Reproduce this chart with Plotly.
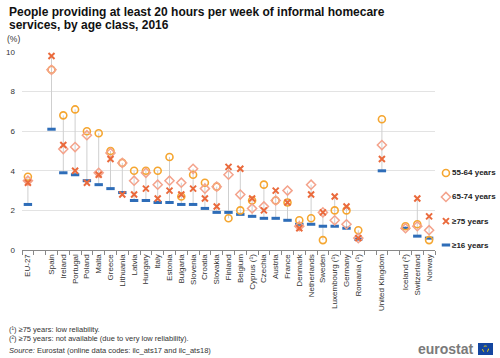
import plotly.graph_objects as go

categories = ["EU-27", "", "Spain", "Ireland", "Portugal", "Poland", "Malta", "Greece",
              "Lithuania", "Latvia", "Hungary", "Italy", "Estonia", "Bulgaria", "Slovenia",
              "Croatia", "Slovakia", "Finland", "Belgium", "Cyprus (¹)", "Czechia", "Austria",
              "France", "Denmark", "Netherlands", "Sweden", "Luxembourg (¹)", "Germany",
              "Romania (¹)", "", "United Kingdom", "", "Iceland (²)", "Switzerland", "Norway"]

y55_64 = [3.7, None, 9.1, 6.8, 7.1, 6.0, 5.9, 5.0, 4.4, 4.0, 4.0, 4.0, 4.7, 2.7, 3.8, 3.4, 3.2,
          1.6, 2.0, 2.5, 3.3, 2.5, 2.4, 1.5, 1.6, 0.5, 2.0, 2.0, 1.0, None, 6.6, None, 1.2, 1.3, 0.5]
y65_74 = [3.5, None, 9.1, 5.1, 5.2, 5.8, 3.9, 4.9, 4.4, 3.5, 3.9, 3.3, 3.5, 3.4, 4.1, 3.1, 3.2,
          3.8, 2.8, 2.1, 2.2, 2.5, 3.0, 1.2, 3.3, 1.9, 1.5, 1.3, 0.6, None, 5.3, None, 1.1, 1.2, 1.0]
y75plus = [3.4, None, 9.8, 5.3, 4.0, 3.4, 3.8, 4.6, 2.8, 2.8, 3.1, 2.6, 3.0, 2.8, 3.1, 2.6, 2.2,
           4.2, 4.1, 2.6, 2.0, 3.0, 2.4, 1.1, 2.8, 1.9, 2.7, 2.2, 0.6, None, 4.6, None, None, 2.6, 1.7]
y16plus = [2.3, None, 6.1, 3.9, 3.8, 3.5, 3.3, 3.1, 2.9, 2.5, 2.5, 2.4, 2.4, 2.3, 2.3, 2.1, 1.9,
           1.9, 1.8, 1.7, 1.6, 1.6, 1.5, 1.3, 1.3, 1.2, 1.2, 1.1, 0.55, None, 4.0, None, 1.1, 0.7, 0.6]

series_names = ["55-64 years", "65-74 years", "≥75 years", "≥16 years"]
yticks = [0, 2, 4, 6, 8, 10]

C55 = "#F5A630"
C65 = "#F4A38C"
C75 = "#EA6A3C"
C16 = "#2E6DB8"
FONT = "Liberation Sans, Arial, sans-serif"

SYM55 = dict(symbol="circle-open", size=7, color=C55, line=dict(color=C55, width=1.6))
SYM65 = dict(symbol="diamond-open", size=7, color=C65, line=dict(color=C65, width=1.5))
SYM75 = dict(symbol="x-thin-open", size=6, color=C75, line=dict(color=C75, width=2))
SYM16 = dict(symbol="line-ew", size=6, color=C16, line=dict(color=C16, width=3))

xs = list(range(len(categories)))
fig = go.Figure()

# vertical connector lines (min to max of each category)
lx, ly = [], []
for i in xs:
    vals = [s[i] for s in (y55_64, y65_74, y75plus, y16plus) if s[i] is not None]
    if vals:
        lx += [i, i, None]
        ly += [min(vals), max(vals), None]
fig.add_trace(go.Scatter(x=lx, y=ly, mode="lines", line=dict(color="#cfcfcf", width=1),
                         hoverinfo="skip", showlegend=False))

fig.add_trace(go.Scatter(x=xs, y=y16plus, mode="markers", name=series_names[3],
                         marker=SYM16, showlegend=False))
fig.add_trace(go.Scatter(x=xs, y=y55_64, mode="markers", name=series_names[0],
                         marker=SYM55, showlegend=False))
fig.add_trace(go.Scatter(x=xs, y=y65_74, mode="markers", name=series_names[1],
                         marker=SYM65, showlegend=False))
fig.add_trace(go.Scatter(x=xs, y=y75plus, mode="markers", name=series_names[2],
                         marker=SYM75, showlegend=False))

# manual legend in a side axis
leg_y = [0.389, 0.268, 0.146, 0.025]
leg_sym = [SYM55, SYM65, SYM75, SYM16]
for name, yy, sym in zip(series_names, leg_y, leg_sym):
    fig.add_trace(go.Scatter(x=[0.13], y=[yy], mode="markers", marker=sym, xaxis="x2", yaxis="y2",
                             showlegend=False, hoverinfo="skip"))
    fig.add_annotation(x=0.2, y=yy, xref="x2", yref="y2", text="<b>%s</b>" % name, showarrow=False,
                       xanchor="left", yanchor="middle", font=dict(size=8, color="#222", family=FONT))

W, L = 478, 22
main_right = (435 - L) / W

fig.update_layout(
    width=500, height=358,
    margin=dict(l=22, r=0, t=52, b=108),
    paper_bgcolor="white", plot_bgcolor="white",
    font=dict(family=FONT, color="#333"),
    xaxis=dict(domain=[0, main_right], range=[-0.5, len(categories) - 0.5],
               tickmode="array", tickvals=xs, ticktext=categories, tickangle=-90,
               ticks="", showgrid=False, zeroline=False,
               showline=True, linecolor="#888", linewidth=1,
               tickfont=dict(size=8, color="#333", family=FONT),
               minor=dict(tickmode="linear", tick0=-0.5, dtick=1, ticks="outside",
                          ticklen=4, tickcolor="#888", showgrid=False)),
    yaxis=dict(range=[0, 10], tickvals=yticks, showgrid=True, gridcolor="#e3e3e3", gridwidth=1,
               zeroline=False, showline=False, ticks="", ticklabelstandoff=6,
               tickfont=dict(size=8, color="#333", family=FONT)),
    xaxis2=dict(domain=[main_right + 0.006, 1], range=[0, 1], visible=False, anchor="y2"),
    yaxis2=dict(domain=[0, 1], range=[0, 1], visible=False, anchor="x2"),
)

def px_to_paper(px, py):
    return (px - L) / W, (250 - py) / 198

title_lines = [("People providing at least 20 hours per week of informal homecare", 12),
               ("services, by age class, 2016", 25.5)]
for txt, py in title_lines:
    tx, ty = px_to_paper(7, py)
    fig.add_annotation(x=tx, y=ty, xref="paper", yref="paper", text="<b>%s</b>" % txt,
                       showarrow=False, xanchor="left", yanchor="middle",
                       font=dict(size=12, color="#111", family=FONT))

ax, ay = px_to_paper(5, 39)
fig.add_annotation(x=ax, y=ay, xref="paper", yref="paper", text="(%)", showarrow=False,
                   xanchor="left", yanchor="middle", font=dict(size=8.5, color="#333", family=FONT))

notes = [("(¹) ≥75 years: low reliability.", 329),
         ("(²) ≥75 years: not available (due to very low reliability).", 338),
         ("<i>Source:</i> Eurostat (online data codes: ilc_ats17 and ilc_ats18)", 350)]
for txt, py in notes:
    nx, ny = px_to_paper(7, py)
    fig.add_annotation(x=nx, y=ny, xref="paper", yref="paper", text=txt, showarrow=False,
                       xanchor="left", yanchor="middle", font=dict(size=7.5, color="#333", family=FONT))

# eurostat logo
ex, ey = px_to_paper(476, 349)
fig.add_annotation(x=ex, y=ey, xref="paper", yref="paper", text="<b>eurostat</b>", showarrow=False,
                   xanchor="right", yanchor="middle", font=dict(size=14, color="#7a7a7a", family=FONT))
x0, y0 = px_to_paper(478, 343)
x1, y1 = px_to_paper(493, 355)
fig.add_shape(type="rect", xref="paper", yref="paper", x0=x0, y0=y0, x1=x1, y1=y1,
              fillcolor="#1446A0", line=dict(width=0))
cx0, cy0 = px_to_paper(482.5, 346)
cx1, cy1 = px_to_paper(488.5, 352)
fig.add_shape(type="circle", xref="paper", yref="paper", x0=cx0, y0=cy0, x1=cx1, y1=cy1,
              line=dict(color="#FFDD00", width=1, dash="dot"))

fig.write_html("out.html", config={"displayModeBar": False},
               post_script="document.body.style.margin='0';document.body.style.overflow='hidden';window.scrollTo(0,0);")
